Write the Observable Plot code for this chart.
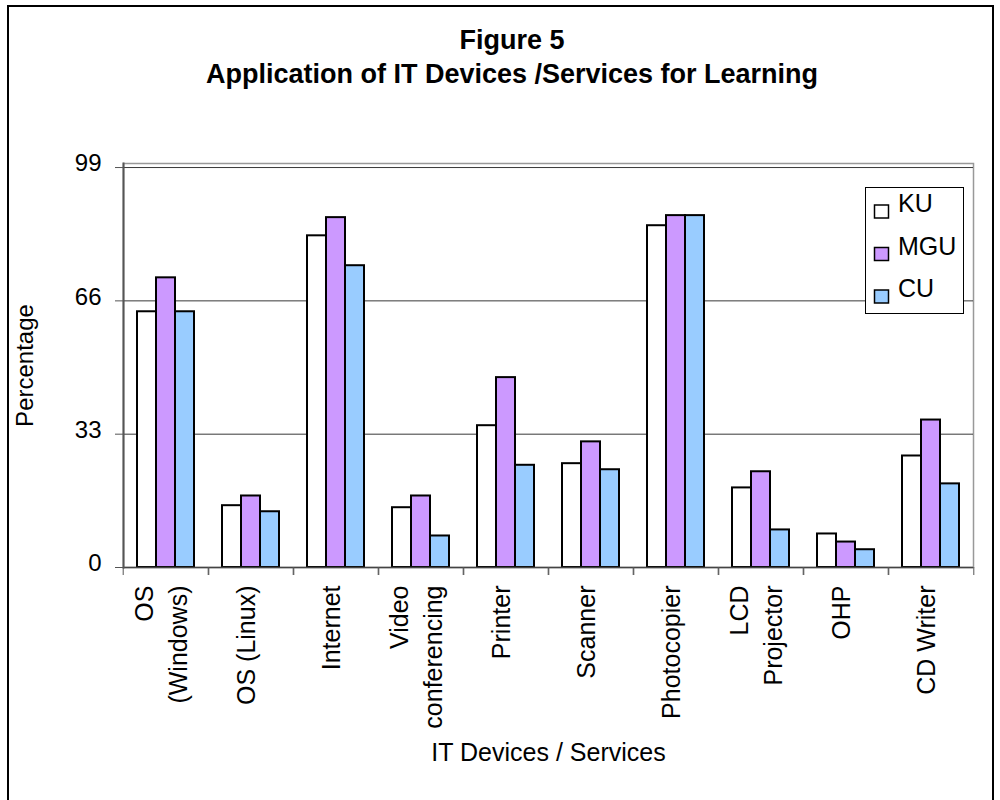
<!DOCTYPE html>
<html>
<head>
<meta charset="utf-8">
<script src="https://cdn.jsdelivr.net/npm/d3@7"></script>
<script src="https://cdn.jsdelivr.net/npm/@observablehq/plot@0.6"></script>
<style>
  html, body { margin: 0; padding: 0; background: #fff; overflow: hidden; }
  body { font-family: "Liberation Sans", Arial, sans-serif; width: 1000px; height: 800px; position: relative; }
  #border { position: absolute; left: 7px; top: 5px; width: 987px; height: 830px; border: 2px solid #000; box-sizing: border-box; }
  #title { position: absolute; left: 12px; top: 23px; width: 1000px; text-align: center; font-weight: bold; font-size: 27px; line-height: 34px; color: #000; }
  #chart { position: absolute; left: 0; top: 0; }
  #legend { position: absolute; left: 865px; top: 187px; }
</style>
</head>
<body>
<div id="border"></div>
<div id="title">Figure 5<br>Application of IT Devices /Services for Learning</div>
<div id="chart"></div>
<div id="legend"></div>
<script>
// ---- data ----
const categories = ["OS\n(Windows)", "OS (Linux)", "Internet", "Video\nconferencing", "Printer", "Scanner", "Photocopier", "LCD\nProjector", "OHP", "CD Writer"];
const series = ["KU", "MGU", "CU"];
const ku  = [63.3, 15.3, 82.1, 14.8, 35.1, 25.7, 84.6, 19.7, 8.3, 27.6];
const mgu = [71.7, 17.7, 86.6, 17.7, 47.0, 31.1, 87.1, 23.7, 6.3, 36.5];
const cu  = [63.3, 13.8, 74.7,  7.8, 25.3, 24.2, 87.1,  9.3, 4.4, 20.7];
const colors = ["#ffffff", "#cc99ff", "#99ccff"];
const yTicks = [0, 33, 66, 99];
const yLabel = "Percentage";
const xLabel = "IT Devices / Services";

const values = [ku, mgu, cu];
const table = [];
categories.forEach((c, i) => series.forEach((s, j) => table.push({category: c, series: s, value: values[j][i]})));

// ---- layout ----
const W = 1000, H = 800, mL = 120, mR = 24, mT = 163, mB = 233;
const step = (W - mL - mR) / categories.length;
const font = "Liberation Sans, Arial, sans-serif";

const chart = Plot.plot({
  width: W, height: H,
  marginLeft: mL, marginRight: mR, marginTop: mT, marginBottom: mB,
  style: {fontFamily: font, fontSize: "25px", color: "#000", background: "transparent", overflow: "visible"},
  fx: {domain: categories, padding: 0, label: null},
  x: {domain: series, paddingInner: 0, paddingOuter: 0.7, axis: null},
  y: {domain: [0, 100], axis: null},
  color: {domain: series, range: colors},
  marks: [
    Plot.frame({facet: "super", stroke: "#999", strokeWidth: 1.5}),
    Plot.gridY(yTicks.filter(d => d > 0), {stroke: "#222", strokeOpacity: 0.9, strokeWidth: 1}),
    Plot.barY(table, {fx: "category", x: "series", y: "value", fill: "series", stroke: "#000", strokeWidth: 2}),
    Plot.ruleY([0], {stroke: "#444", strokeWidth: 1.5}),
    Plot.frame({facet: "super", anchor: "left", stroke: "#555", strokeWidth: 2}),
    // y ticks and labels
    Plot.axisY({ticks: yTicks, tickSize: 8, tickFormat: () => "", label: null, stroke: "#555"}),
    Plot.axisY({ticks: yTicks, tickSize: 0, tickPadding: 22, fontSize: 24, dy: -4,
      label: yLabel, labelAnchor: "center", labelOffset: 108, labelArrow: "none"}),
    // x ticks at band edges
    Plot.axisFx({anchor: "bottom", tickFormat: () => "", tickSize: 8, dx: -step / 2, label: null, stroke: "#555"}),
    Plot.axisFx({anchor: "bottom", tickFormat: () => "", tickSize: 8, dx: step / 2, label: null, stroke: "#555"}),
    // x labels
    Plot.axisFx({anchor: "bottom", tickSize: 0, tickRotate: -90, tickPadding: 18, fontSize: 25, lineHeight: 1.36, dx: -7,
      label: xLabel, labelAnchor: "center", labelOffset: 193, labelArrow: "none"})
  ]
});
document.getElementById("chart").appendChild(chart);

// ---- legend ----
const lg = d3.select("#legend").append("svg").attr("width", 99).attr("height", 127)
  .style("font-family", font).style("font-size", "25px");
lg.append("rect").attr("x", 0.5).attr("y", 0.5).attr("width", 98).attr("height", 126)
  .attr("fill", "#fff").attr("stroke", "#000");
series.forEach((s, i) => {
  const base = 25 + i * 42.5;
  lg.append("rect").attr("x", 9.5).attr("y", base - 7).attr("width", 14).attr("height", 13)
    .attr("fill", colors[i]).attr("stroke", "#000").attr("stroke-width", 1.5);
  lg.append("text").attr("x", 33).attr("y", base).text(s);
});
</script>
</body>
</html>
